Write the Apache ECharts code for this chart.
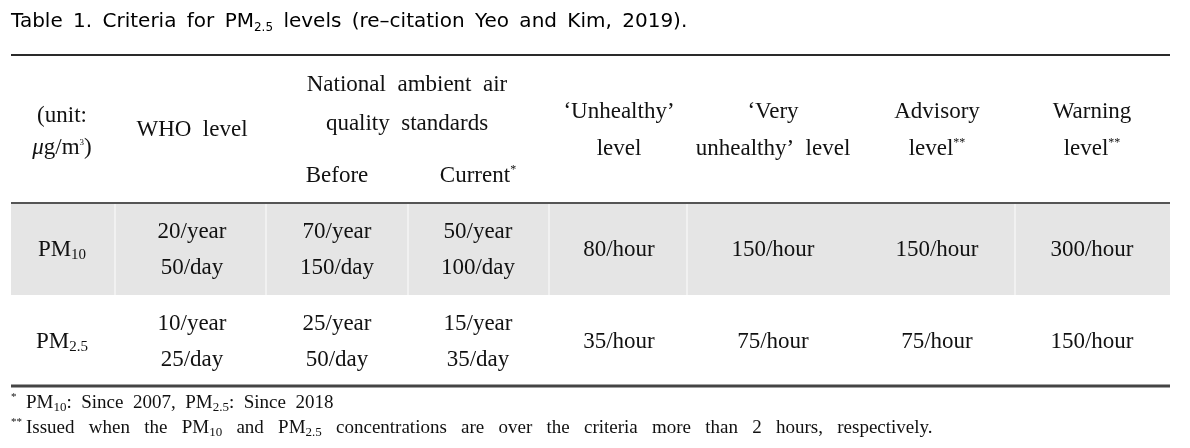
<!DOCTYPE html>
<html>
<head>
<meta charset="utf-8">
<script src="https://cdn.jsdelivr.net/npm/echarts@6/dist/echarts.min.js"></script>
<style>
html,body{margin:0;padding:0;background:#fff;}
#main{width:1190px;height:448px;}
</style>
</head>
<body>
<div id="main"></div>
<script>
// ---------- data ----------
const titleText = 'Table\u2009 1.\u2009 Criteria\u2009 for\u2009 PM{s|2.5}\u2009 levels\u2009 (re–citation\u2009 Yeo\u2009 and\u2009 Kim,\u2009 2019).';
const groupHeader = 'National  ambient  air\nquality  standards';
const columnHeaders = [
  '(unit:\n{i|μ}g/m{u|3})',
  'WHO  level',
  'Before',
  'Current{sup|*}',
  '‘Unhealthy’\nlevel',
  '‘Very\nunhealthy’  level',
  'Advisory\nlevel{sup|**}',
  'Warning\nlevel{sup|**}'
];
const rowLabels = ['PM{s|10}', 'PM{s|2.5}'];
const pm10Values = ['20/year\n50/day', '70/year\n150/day', '50/year\n100/day', '80/hour', '150/hour', '150/hour', '300/hour'];
const pm25Values = ['10/year\n25/day', '25/year\n50/day', '15/year\n35/day', '35/hour', '75/hour', '75/hour', '150/hour'];
const footnotes = [
  '{st|*}PM{s|10}:  Since  2007,  PM{s|2.5}:  Since  2018',
  '{st|**}Issued   when   the   PM{s|10}   and   PM{s|2.5}   concentrations   are   over   the   criteria   more   than   2   hours,   respectively.'
];

// ---------- layout (positions, not data) ----------
const layout = {
  colX: [62, 192, 337, 478, 619, 773, 937, 1092],
  groupX: 407,
  headY: [132, 130, 176, 176, 130, 130, 130, 130],
  groupY: 104,
  rowY: [250, 342],
  tableLeft: 11, tableRight: 1170,
  bandTop: 204, bandBottom: 295,
  bandEdges: [11, 115, 266, 408, 549, 687, 1015, 1170],
  rules: [[55, 2, '#2a2a2a'], [203, 2, '#555555'], [386, 3, '#444444']]
};

const SERIF = '"Liberation Serif", "Times New Roman", serif';
const SANS = '"DejaVu Sans", Verdana, sans-serif';
const richStyles = {
  s: {fontSize: 15, lineHeight: 15, verticalAlign: 'bottom', fontFamily: SERIF, fill: '#111'},
  sup: {fontSize: 12, height: 25, verticalAlign: 'top', fontFamily: SERIF, fill: '#111'},
  u: {fontSize: 9, height: 21, verticalAlign: 'top', fontFamily: SERIF, fill: '#111'},
  i: {fontSize: 23, fontStyle: 'italic', fontFamily: SERIF, fill: '#111'}
};

// build cells
const cells = [];
columnHeaders.forEach((t, c) => cells.push({x: layout.colX[c], y: layout.headY[c], text: t, lh: c === 0 ? 32 : 37}));
cells.push({x: layout.groupX, y: layout.groupY, text: groupHeader, lh: 39});
rowLabels.forEach((t, r) => cells.push({x: layout.colX[0], y: layout.rowY[r], text: t, lh: 26}));
[pm10Values, pm25Values].forEach((vals, r) => {
  vals.forEach((t, c) => cells.push({x: layout.colX[c + 1], y: layout.rowY[r], text: t, lh: 36}));
});

// shaded band: a full strip (seams) then one panel per column
const bands = [[layout.bandEdges[0], layout.bandEdges[layout.bandEdges.length - 1], 'seam']];
for (let i = 0; i < layout.bandEdges.length - 1; i++) bands.push([layout.bandEdges[i], layout.bandEdges[i + 1], 'cell']);

const footRich = {
  s: {fontSize: 13, lineHeight: 13, verticalAlign: 'bottom', fontFamily: SERIF, color: '#111'},
  st: {fontSize: 11, lineHeight: 12, verticalAlign: 'top', width: 15, fontFamily: SERIF, color: '#111'}
};

const chart = echarts.init(document.getElementById('main'), null, {renderer: 'canvas'});
chart.setOption({
  animation: false,
  backgroundColor: '#ffffff',
  title: [
    {text: titleText, left: 11, top: 10, padding: 0,
     textStyle: {fontFamily: SANS, fontSize: 20, fontWeight: 'normal', color: '#000', lineHeight: 24,
       rich: {s: {fontSize: 12, fontFamily: SANS, verticalAlign: 'bottom', lineHeight: 16, color: '#000'}}}},
    {text: footnotes[0], left: 11, top: 392, padding: 0,
     textStyle: {fontFamily: SERIF, fontSize: 19, fontWeight: 'normal', color: '#111', lineHeight: 22, rich: footRich}},
    {text: footnotes[1], left: 11, top: 417, padding: 0,
     textStyle: {fontFamily: SERIF, fontSize: 19, fontWeight: 'normal', color: '#111', lineHeight: 22, rich: footRich}}
  ],
  grid: {left: 0, right: 0, top: 0, bottom: 0},
  xAxis: {type: 'value', min: 0, max: 1190, show: false},
  yAxis: {type: 'value', min: 0, max: 448, inverse: true, show: false},
  series: [
    {
      type: 'custom', clip: false, silent: true,
      data: bands.map(b => [b[0], b[1]]),
      renderItem: function (params, api) {
        const b = bands[params.dataIndex];
        const p0 = api.coord([api.value(0), layout.bandTop]);
        const p1 = api.coord([api.value(1), layout.bandBottom]);
        if (b[2] === 'seam') {
          return {type: 'rect', shape: {x: p0[0], y: p0[1], width: p1[0] - p0[0], height: p1[1] - p0[1]}, style: {fill: '#f1f1f1'}};
        }
        const first = params.dataIndex === 1;
        const last = params.dataIndex === bands.length - 1;
        const x0 = p0[0] + (first ? 0 : 1);
        const x1 = p1[0] - (last ? 0 : 1);
        return {type: 'rect', shape: {x: x0, y: p0[1], width: x1 - x0, height: p1[1] - p0[1]},
                style: {fill: '#e5e5e5'}};
      }
    },
    {
      type: 'custom', clip: false, silent: true,
      data: layout.rules.map(r => [layout.tableLeft, r[0]]),
      renderItem: function (params, api) {
        const r = layout.rules[params.dataIndex];
        const a = api.coord([layout.tableLeft, r[0]]);
        const b = api.coord([layout.tableRight, r[0]]);
        return {type: 'rect', shape: {x: a[0], y: a[1] - r[1] / 2, width: b[0] - a[0], height: r[1]}, style: {fill: r[2]}};
      }
    },
    {
      type: 'custom', clip: false, silent: true,
      data: cells.map(c => [c.x, c.y]),
      renderItem: function (params, api) {
        const c = cells[params.dataIndex];
        const p = api.coord([api.value(0), api.value(1)]);
        const rich = {};
        Object.keys(richStyles).forEach(k => { rich[k] = Object.assign({}, richStyles[k]); });
        rich.i.lineHeight = c.lh;
        return {
          type: 'text',
          style: {
            text: c.text, x: p[0], y: p[1], align: 'center', verticalAlign: 'middle',
            fontFamily: SERIF, fontSize: 23, lineHeight: c.lh, fill: '#111', rich: rich
          }
        };
      }
    }
  ]
});
</script>
</body>
</html>
